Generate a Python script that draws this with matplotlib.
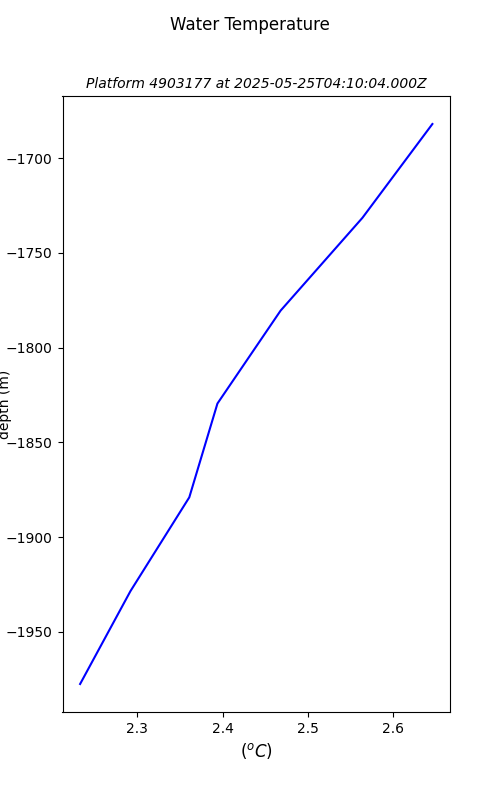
import numpy as np
import matplotlib
matplotlib.use('Agg')
import matplotlib.pyplot as plt

# temperature profile
temp = [2.646, 2.564, 2.468, 2.394, 2.361, 2.292, 2.233]
depth = [-1682, -1731.5, -1780.5, -1829.5, -1879, -1928.5, -1977.5]

platform = '4903177'
stamp = '2025-05-25T04:10:04.000Z'

fig = plt.figure(figsize=(5, 8), dpi=100)
ax = fig.add_subplot(111)
ax.plot(temp, depth, 'b-')

fig.suptitle('Water Temperature')
ax.set_title('Platform %s at %s' % (platform, stamp), fontsize=10, style='italic')
ax.set_xlabel('($^oC$)', fontsize=12)
ax.set_ylabel('depth (m)')
ax.yaxis.set_label_coords(-0.131, 0.5)

fig.savefig('out.png', dpi=100)
